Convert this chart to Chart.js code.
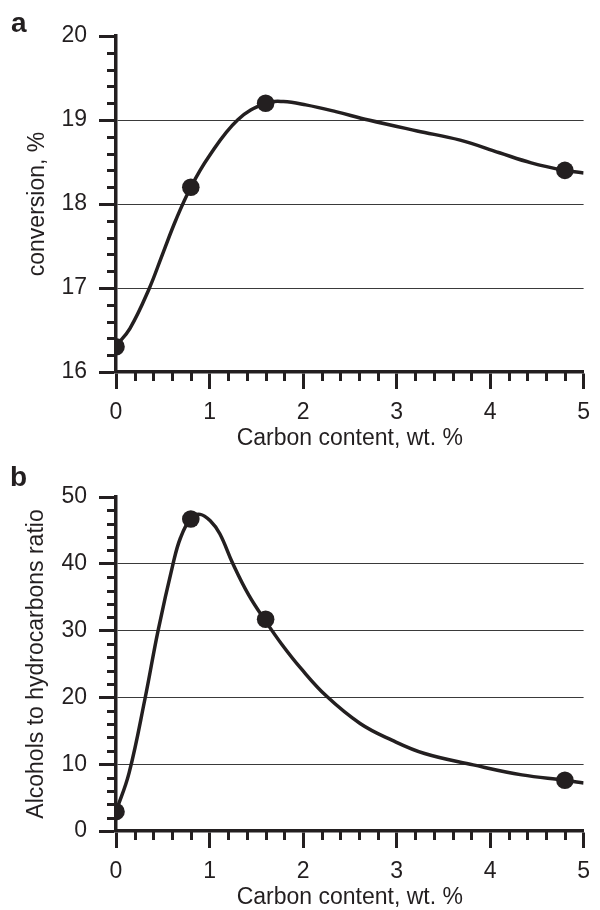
<!DOCTYPE html>
<html>
<head>
<meta charset="utf-8">
<script src="https://cdn.jsdelivr.net/npm/chart.js@4/dist/chart.umd.min.js"></script>
<style>
  html, body { margin: 0; padding: 0; background: #ffffff; width: 600px; height: 910px; overflow: hidden; }
  .panel { position: absolute; left: 0; width: 600px; height: 455px; }
  .lbl { position: absolute; font-family: "Liberation Sans", Arial, sans-serif; font-weight: bold; font-size: 28px; line-height: 28px; color: #231f20; }
</style>
</head>
<body>
<div class="panel" style="top:0px"><canvas id="chartA" width="600" height="455"></canvas></div>
<div class="panel" style="top:455px"><canvas id="chartB" width="600" height="455"></canvas></div>
<div class="lbl" style="left:11px; top:9px;">a</div>
<div class="lbl" style="left:10px; top:463px;">b</div>
<script>
// ---------- data ----------
const carbonContent = [0, 0.8, 1.6, 4.8];               // wt. %
const conversion = [16.3, 18.2, 19.2, 18.4];           // %
const alcoholRatio = [2.9, 46.7, 31.7, 7.6];           // alcohols / hydrocarbons

// fitted curves as drawn in the figure
const curveAx = [0, 0.15, 0.35, 0.5, 0.64, 0.8, 0.99, 1.3, 1.6, 1.79, 2.03, 2.35, 2.7, 3.22, 3.68, 4.1, 4.44, 4.8, 5.0];
const curveAy = [16.31, 16.52, 16.98, 17.41, 17.81, 18.2, 18.56, 19.0, 19.2, 19.22, 19.18, 19.1, 19.0, 18.87, 18.76, 18.61, 18.49, 18.4, 18.37];
const curveBx = [0, 0.14, 0.31, 0.45, 0.61, 0.69, 0.8, 0.9, 1.01, 1.11, 1.25, 1.42, 1.6, 1.77, 1.98, 2.25, 2.61, 2.95, 3.3, 3.82, 4.34, 4.8, 5.0];
const curveBy = [2.9, 8.7, 19.8, 30.0, 40.0, 43.9, 46.8, 47.4, 46.4, 44.5, 40.0, 35.3, 31.4, 28.0, 24.3, 20.2, 16.1, 13.6, 11.6, 9.9, 8.4, 7.6, 7.2];

const xTicks = [0, 1, 2, 3, 4, 5];
const yTicksA = [16, 17, 18, 19, 20];
const yTicksB = [0, 10, 20, 30, 40, 50];

const xTitle = 'Carbon content, wt. %';
const yTitleA = 'conversion, %';
const yTitleB = 'Alcohols to hydrocarbons ratio';

// ---------- style ----------
const INK = '#231f20';
const GRID = '#3a3a3a';
const FONT = '"Liberation Sans", Arial, sans-serif';

const zip = (xs, ys) => xs.map((x, i) => ({x: x, y: ys[i]}));

const minorTicks = {
  id: 'minorTicks',
  afterDraw(chart, args, opts) {
    const {ctx} = chart;
    const xs = chart.scales.x, ys = chart.scales.y;
    ctx.save();
    ctx.strokeStyle = INK;
    ctx.lineWidth = 3;
    ctx.beginPath();
    const eps = 1e-6;
    for (let v = xs.min; v <= xs.max + eps; v += opts.xStep) {
      const r = Math.round(v * 1000) / 1000;
      if (Math.abs(r - Math.round(r / opts.xMajor) * opts.xMajor) < eps) continue;
      const px = Math.round(xs.getPixelForValue(r)) + 0.5;
      ctx.moveTo(px, xs.top);
      ctx.lineTo(px, xs.top + opts.len);
    }
    for (let v = ys.min; v <= ys.max + eps; v += opts.yStep) {
      const r = Math.round(v * 1000) / 1000;
      if (Math.abs(r - Math.round(r / opts.yMajor) * opts.yMajor) < eps) continue;
      const py = Math.round(ys.getPixelForValue(r)) + 0.5;
      ctx.moveTo(ys.right, py);
      ctx.lineTo(ys.right - opts.len, py);
    }
    ctx.stroke();
    ctx.restore();
  }
};

function makeChart(id, cfg) {
  const yMax = cfg.yTicks[cfg.yTicks.length - 1];
  return new Chart(document.getElementById(id), {
    type: 'scatter',
    data: {
      datasets: [
        {
          data: zip(carbonContent, cfg.points),
          showLine: false,
          pointRadius: 8.8,
          pointHoverRadius: 8.8,
          pointBackgroundColor: INK,
          pointBorderWidth: 0,
          order: 0
        },
        {
          data: zip(cfg.curveX, cfg.curveY),
          showLine: true,
          borderColor: INK,
          borderWidth: 3.5,
          pointRadius: 0,
          tension: 0.4,
          fill: false,
          order: 1
        }
      ]
    },
    options: {
      responsive: false,
      animation: false,
      events: [],
      layout: { padding: { top: cfg.top, right: 7, left: 0, bottom: 0 } },
      plugins: {
        legend: { display: false },
        tooltip: { enabled: false },
        minorTicks: { xStep: 0.2, xMajor: 1, yStep: cfg.yMinor, yMajor: cfg.yMajor, len: 9 }
      },
      scales: {
        x: {
          type: 'linear',
          min: xTicks[0],
          max: xTicks[xTicks.length - 1],
          afterBuildTicks: s => { s.ticks = xTicks.map(v => ({value: v})); },
          ticks: { color: INK, font: { family: FONT, size: 23 }, padding: 10, maxRotation: 0 },
          grid: { drawOnChartArea: false, tickLength: 17, tickWidth: 3, tickColor: INK },
          border: { display: true, color: INK, width: 3.5 },
          title: { display: true, text: xTitle, color: INK, font: { family: FONT, size: 23, lineHeight: 1 }, padding: { top: 0, bottom: cfg.xTitlePad } },
          afterFit: s => { s.height = cfg.xHeight; }
        },
        y: {
          type: 'linear',
          min: cfg.yTicks[0],
          max: yMax,
          afterBuildTicks: s => { s.ticks = cfg.yTicks.map(v => ({value: v})); },
          ticks: { color: INK, font: { family: FONT, size: 23 }, padding: 12 },
          grid: {
            color: c => (c.tick && c.tick.value === yMax) ? 'rgba(0,0,0,0)' : GRID,
            lineWidth: 1,
            tickLength: 17, tickWidth: 3, tickColor: INK
          },
          border: { display: true, color: INK, width: 3.5 },
          title: { display: true, text: cfg.yTitle, color: INK, font: { family: FONT, size: 23, lineHeight: 1 }, padding: { top: cfg.yTitlePad, bottom: 0 } },
          afterFit: s => { s.width = 116; }
        }
      }
    },
    plugins: [minorTicks]
  });
}

makeChart('chartA', {
  points: conversion, curveX: curveAx, curveY: curveAy,
  yTicks: yTicksA, yMinor: 0.2, yMajor: 1, yTitle: yTitleA,
  top: 36, xHeight: 83, xTitlePad: 4.5, yTitlePad: 26.5
});
makeChart('chartB', {
  points: alcoholRatio, curveX: curveBx, curveY: curveBy,
  yTicks: yTicksB, yMinor: 2, yMajor: 10, yTitle: yTitleB,
  top: 42, xHeight: 79, xTitlePad: 0.5, yTitlePad: 25.5
});
</script>
</body>
</html>
